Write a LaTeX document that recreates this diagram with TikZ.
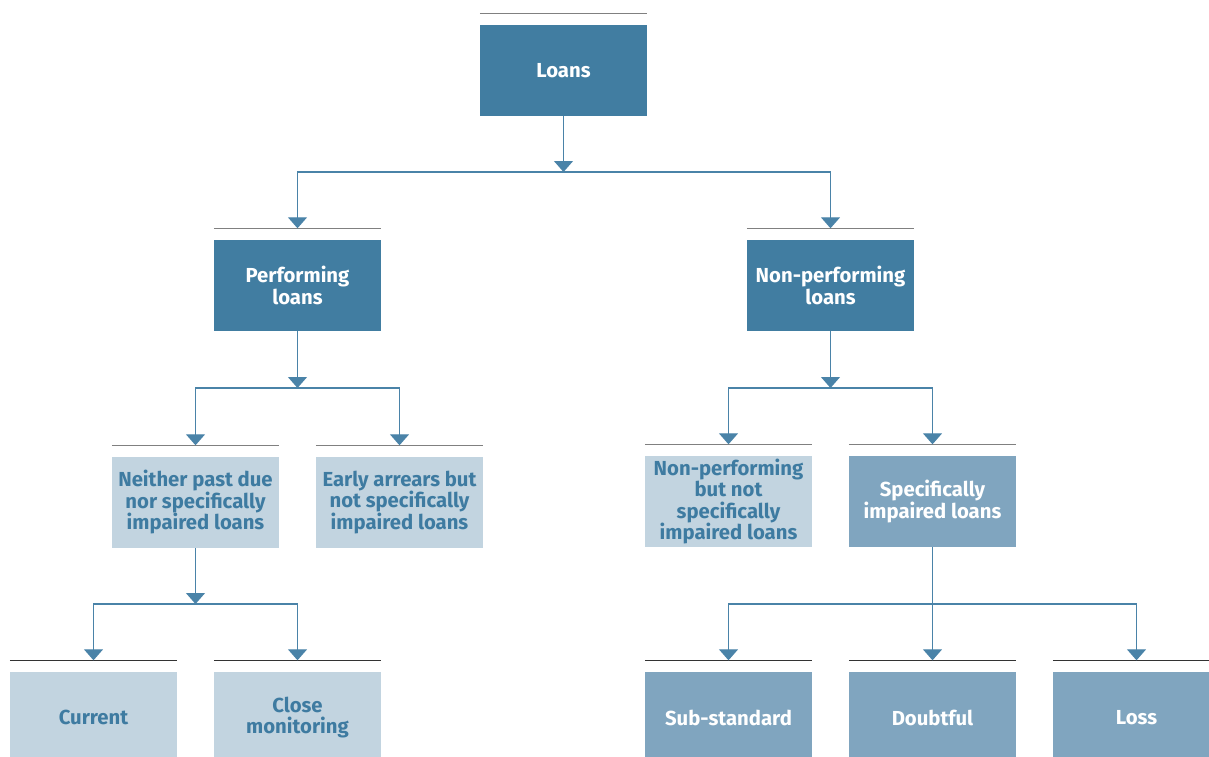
\documentclass[tikz,border=0pt]{standalone}
\usepackage{fontspec}
\setmainfont{Fira Sans}
\usetikzlibrary{arrows.meta}
\definecolor{boxdark}{HTML}{417DA1}
\definecolor{boxmid}{HTML}{80A5BF}
\definecolor{boxlight}{HTML}{C2D4E0}
\definecolor{txtblue}{HTML}{3E7BA1}
\definecolor{linkblue}{HTML}{4A83A8}
\definecolor{rulegray}{HTML}{808080}
\definecolor{ruledark}{HTML}{333333}
\tikzset{
  box/.style={rectangle, inner sep=2pt, minimum width=167pt, minimum height=91pt,
    align=center, font=\fontsize{20.3}{21.5}\selectfont\bfseries},
  darkbox/.style={box, fill=boxdark, text=white},
  midbox/.style={box, fill=boxmid, text=white},
  lightbox/.style={box, fill=boxlight, text=txtblue},
  conn/.style={draw=linkblue, line width=1.2pt,
    -{Triangle[width=19pt,length=11pt,fill=linkblue]}},
  toprule/.style={draw=rulegray, line width=1.5pt},
  botrule/.style={draw=ruledark, line width=1.3pt},
}
\begin{document}
\begin{tikzpicture}[x=1pt,y=-1pt]
\useasboundingbox (0,0) rectangle (1209,756);
\clip (0,0) rectangle (1209,756);

% boxes
\node[darkbox]  (loans)  at (563.5,70.5)  {Loans};
\node[darkbox]  (perf)   at (297.5,285.5) {Performing\\loans};
\node[darkbox]  (nperf)  at (830.5,285.5) {Non-performing\\loans};
\node[lightbox] (neither) at (195.5,502.5) {Neither past due\\nor specifically\\impaired loans};
\node[lightbox] (early)  at (399.5,502.5) {Early arrears but\\not specifically\\impaired loans};
\node[lightbox] (npnot)  at (728.5,501.5) {Non-performing\\but not\\specifically\\impaired loans};
\node[midbox]   (spec)   at (932.5,501.5) {Specifically\\impaired loans};
\node[lightbox] (current) at (93.5,717.5) {Current};
\node[lightbox] (close)  at (297.5,717.5) {Close\\monitoring};
\node[midbox]   (sub)    at (728.5,717.5) {Sub-standard};
\node[midbox]   (doubt)  at (932.5,717.5) {Doubtful};
\node[midbox]   (loss)   at (1136.5,717.5) {Loss};

% rules above the boxes
\foreach \b in {loans,perf,nperf,neither,early,npnot,spec}
  \draw[toprule] ([yshift=11.5pt]\b.north west) -- ([yshift=11.5pt]\b.north east);
\foreach \b in {current,close,sub,doubt,loss}
  \draw[botrule] ([yshift=11.5pt]\b.north west) -- ([yshift=11.5pt]\b.north east);

% junction points
\coordinate (j1) at (563.5,172);
\coordinate (j2) at (297.5,388);
\coordinate (j3) at (830.5,388);
\coordinate (j4) at (195.5,604);
\coordinate (j5) at (932.5,604);

% connectors
\draw[conn] (loans.south) -- (j1);
\draw[conn] (j1) -| ([yshift=11.5pt]perf.north);
\draw[conn] (j1) -| ([yshift=11.5pt]nperf.north);

\draw[conn] (perf.south) -- (j2);
\draw[conn] (j2) -| ([yshift=11.5pt]neither.north);
\draw[conn] (j2) -| ([yshift=11.5pt]early.north);

\draw[conn] (nperf.south) -- (j3);
\draw[conn] (j3) -| ([yshift=11.5pt]npnot.north);
\draw[conn] (j3) -| ([yshift=11.5pt]spec.north);

\draw[conn] (neither.south) -- (j4);
\draw[conn] (j4) -| ([yshift=11.5pt]current.north);
\draw[conn] (j4) -| ([yshift=11.5pt]close.north);

\draw[conn] (spec.south) -- ([yshift=11.5pt]doubt.north);
\draw[conn] (j5) -| ([yshift=11.5pt]sub.north);
\draw[conn] (j5) -| ([yshift=11.5pt]loss.north);
\end{tikzpicture}
\end{document}
